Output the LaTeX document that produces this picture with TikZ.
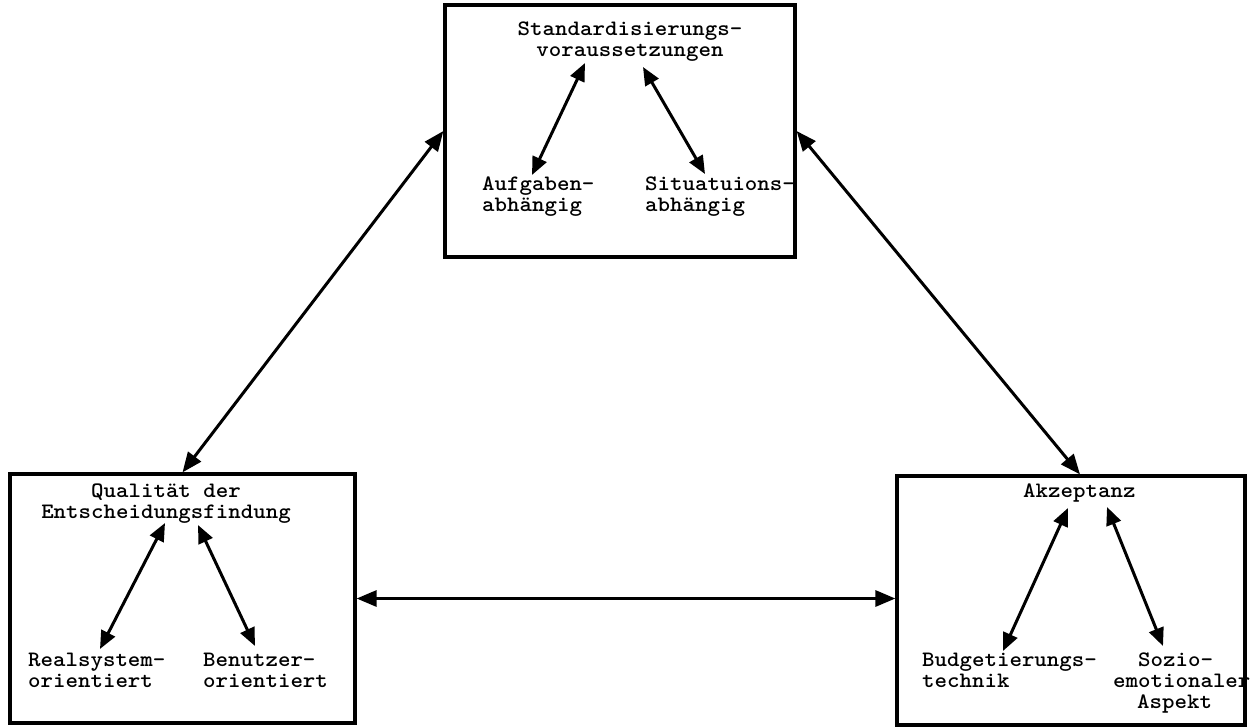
\documentclass[tikz,border=0pt]{standalone}
\usepackage{fontspec}
\usetikzlibrary{arrows.meta}
% heavy typewriter face, slightly widened
\newfontfamily\twfont{lmmonolt10-bold}[Extension=.otf,FakeStretch=1.08]
\begin{document}
\begin{tikzpicture}[x=1pt,y=-1pt,
  panel/.style={draw,line width=3.2pt,rectangle,inner sep=0pt},
  lbl/.style={inner sep=0pt,font=\fontsize{22pt}{21pt}\selectfont\twfont},
  link/.style={line width=3pt,{Triangle[length=20pt,width=16pt]}-{Triangle[length=20pt,width=16pt]}},
  sublink/.style={line width=3pt,{Triangle[length=18pt,width=15pt]}-{Triangle[length=18pt,width=15pt]}}]
\useasboundingbox (0,0) rectangle (1253,726);

% the three panels
\node[panel,minimum width=350pt,minimum height=252pt] (top) at (620,131) {};
\node[panel,minimum width=345pt,minimum height=249pt] (left) at (182.5,598.5) {};
\node[panel,minimum width=348pt,minimum height=249pt] (right) at (1071,600.5) {};

% top panel texts (base anchor of a multi-line node = last line)
\node[lbl,align=center,anchor=base] (std) at (630,56) {Standardisierungs-\\voraussetzungen};
\node[lbl,anchor=base west] (aufg) at (482,190) {Aufgaben-};
\node[lbl,anchor=base west] (aufg2) at (482,211) {abhängig};
\node[lbl,anchor=base west] (sit) at (645,190) {Situatuions-};
\node[lbl,anchor=base west] (sit2) at (645,211) {abhängig};

% left panel texts
\node[lbl,align=center,anchor=base] (qual) at (166,518) {Qualität der\\Entscheidungsfindung};
\node[lbl,anchor=base west] (real) at (28,666) {Realsystem-};
\node[lbl,anchor=base west] (real2) at (28,687) {orientiert};
\node[lbl,anchor=base west] (ben) at (203,666) {Benutzer-};
\node[lbl,anchor=base west] (ben2) at (203,687) {orientiert};

% right panel texts
\node[lbl,anchor=base west] (akz) at (1023,497) {Akzeptanz};
\node[lbl,anchor=base west] (bud) at (922,666) {Budgetierungs-};
\node[lbl,anchor=base west] (bud2) at (922,687) {technik};
\node[lbl,anchor=base west] (soz) at (1138,666) {Sozio-};
\node[lbl,anchor=base west] (soz2) at (1113,687) {emotionaler};
\node[lbl,anchor=base west] (soz3) at (1137,708) {Aspekt};

% arrow ends inside the panels
\coordinate (stdA) at (585,63);   \coordinate (aufgA) at (532,175);
\coordinate (stdB) at (643,67);   \coordinate (sitA)  at (705,174);
\coordinate (qualA) at (165,523); \coordinate (realA) at (100,649);
\coordinate (qualB) at (198,525); \coordinate (benA)  at (255,646);
\coordinate (akzA) at (1068,508); \coordinate (budA)  at (1003,651);
\coordinate (akzB) at (1107,507); \coordinate (sozA)  at (1163,646);

\draw[sublink] (stdA) -- (aufgA);
\draw[sublink] (stdB) -- (sitA);
\draw[sublink] (qualA) -- (realA);
\draw[sublink] (qualB) -- (benA);
\draw[sublink] (akzA) -- (budA);
\draw[sublink] (akzB) -- (sozA);

% links between the panels
\draw[link] (top.west) -- (left.north);
\draw[link] (top.east) -- ([xshift=9pt]right.north);
\draw[link] (left.east) -- (left.east -| right.west);
\end{tikzpicture}
\end{document}
